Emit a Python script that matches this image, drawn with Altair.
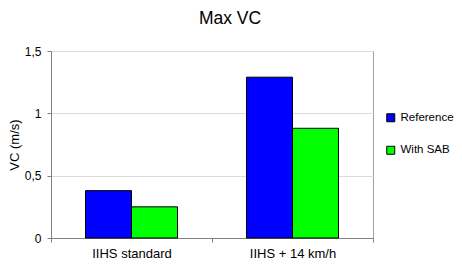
import altair as alt
import pandas as pd

categories = ["IIHS standard", "IIHS + 14 km/h"]
series = ["Reference", "With SAB"]
reference_vals = [0.38, 1.29]
sab_vals = [0.25, 0.88]
colors = ["#0000FF", "#00FF00"]

rows = []
for i, c in enumerate(categories):
    rows.append({"cat": c, "series": series[0], "value": reference_vals[i]})
    rows.append({"cat": c, "series": series[1], "value": sab_vals[i]})
df = pd.DataFrame(rows)

FONT = "Liberation Sans"

chart = alt.Chart(df).mark_bar(stroke="black", strokeWidth=1).encode(
    x=alt.X("cat:N", sort=categories, title=None,
            scale=alt.Scale(paddingInner=0, paddingOuter=0),
            axis=alt.Axis(labelAngle=0, labelFontSize=13, labelFont=FONT, labelColor="black",
                          labelPadding=5, tickBand="extent", tickSize=4, tickColor="#808080",
                          domainColor="#808080", grid=False)),
    xOffset=alt.XOffset("series:N", sort=series,
                        scale=alt.Scale(paddingOuter=0.75, paddingInner=0)),
    y=alt.Y("value:Q", title="VC (m/s)",
            scale=alt.Scale(domain=[0, 1.5], nice=False),
            axis=alt.Axis(values=[0, 0.5, 1, 1.5],
                          labelExpr="replace(format(datum.value, ''), '.', ',')",
                          labelFontSize=12, labelFont=FONT, labelColor="black", labelPadding=6,
                          tickSize=4, tickColor="#808080", domainColor="#808080",
                          gridColor="#dcdcdc", titleFontSize=13, titleFont=FONT,
                          titleFontWeight="normal", titleColor="black", titlePadding=3)),
    color=alt.Color("series:N", sort=series,
                    scale=alt.Scale(domain=series, range=colors),
                    legend=alt.Legend(title=None, orient="none", legendX=334, legendY=61,
                                      symbolType="square", symbolSize=64,
                                      symbolStrokeColor="black", symbolStrokeWidth=1,
                                      labelFontSize=11.5, labelFont=FONT, labelColor="black",
                                      labelOffset=4, rowPadding=19.5, padding=0, labelLimit=200)),
).properties(
    width=322, height=187,
    title=alt.TitleParams("Max VC", fontSize=17.5, font=FONT, fontWeight="normal",
                          color="black", anchor="middle", dx=18, offset=18),
    autosize=alt.AutoSizeParams(type="none"),
    padding={"left": 43, "top": 43, "right": 81, "bottom": 21},
).configure_view(stroke="#a0a0a0", strokeWidth=1)

chart.save("out.html", embed_options={"renderer": "svg", "actions": False})
